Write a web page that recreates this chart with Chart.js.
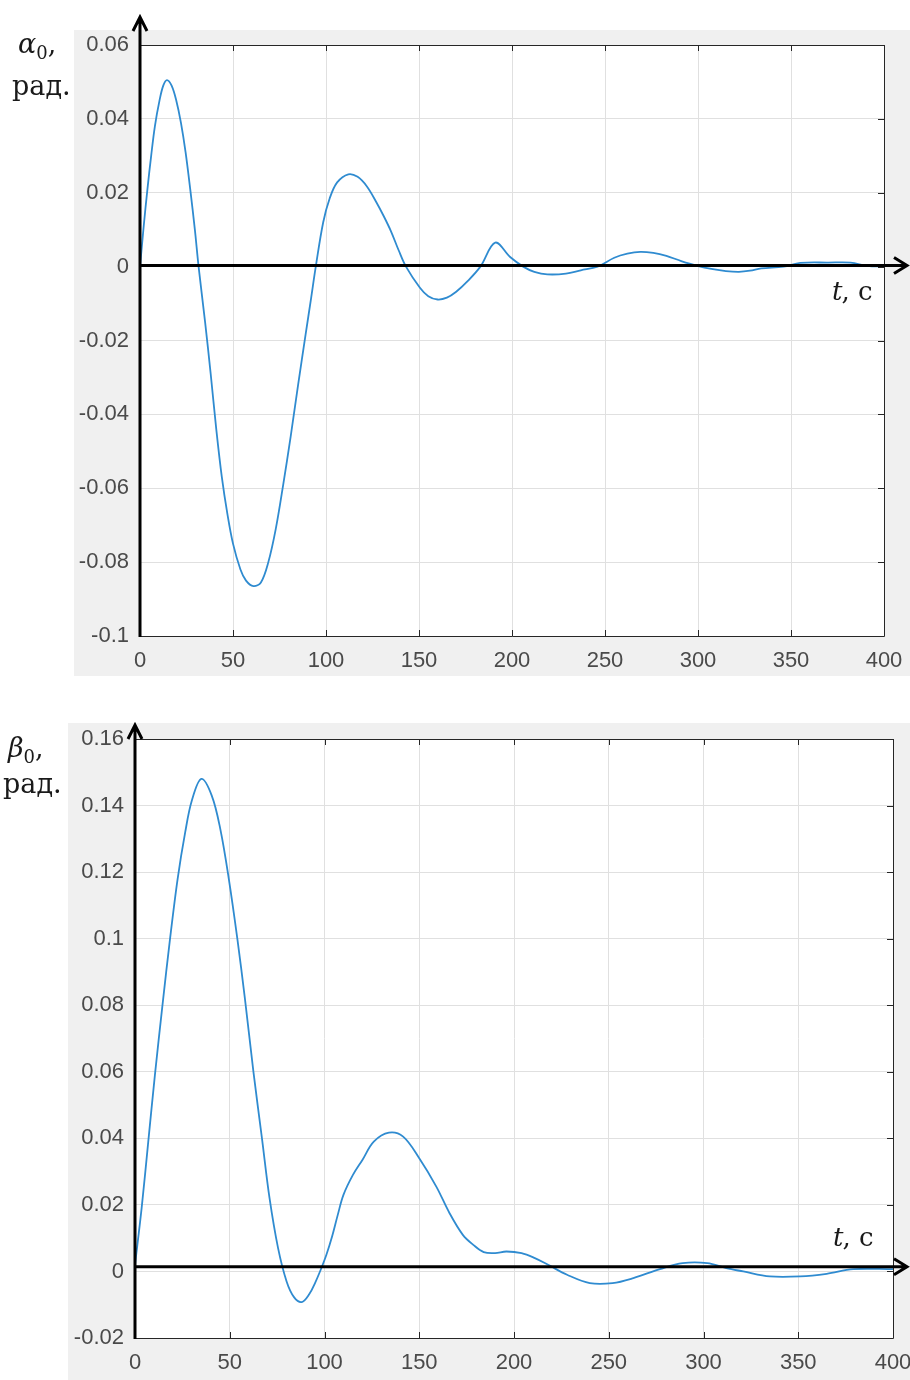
<!DOCTYPE html>
<html>
<head>
<meta charset="utf-8">
<script src="https://cdn.jsdelivr.net/npm/chart.js@4.4.0/dist/chart.umd.min.js"></script>
<style>
body { margin: 0; background: #fff; }
canvas { position: absolute; left: 0; }
#alphaChart { top: 0; }
#betaChart { top: 700px; }
</style>
</head>
<body>
<canvas id="alphaChart" width="910" height="700"></canvas>
<canvas id="betaChart" width="910" height="680"></canvas>
<script>
// alpha0(t), rad
const tAlpha = [0,2,4,6,8,10.5,12.5,14.5,17,19.5,22,24.5,27,29.5,31.5,35,38,41,44,47,50,54,57,61,65,69,73,77,81,85,89,92,94.5,98.5,102,106,112,117,122,127,131,135,139,143,150.5,155,160,165,170,176,183,191,199,206,212,219,229,237,246,255,262,269,276,283,291,299,308,315,322,328,334,346,355,370,382,391,400];
const alpha = [0,0.011,0.021,0.030,0.038,0.045,0.049,0.0505,0.049,0.045,0.039,0.031,0.021,0.010,0,-0.015,-0.029,-0.044,-0.057,-0.067,-0.075,-0.082,-0.085,-0.0865,-0.0855,-0.080,-0.071,-0.059,-0.046,-0.032,-0.0185,-0.0085,0,0.012,0.0185,0.0228,0.025,0.0243,0.0217,0.0175,0.0137,0.0095,0.0045,0,-0.0057,-0.008,-0.0089,-0.0084,-0.0068,-0.004,0,0.0065,0.0026,0,-0.0014,-0.0021,-0.0019,-0.001,0,0.0024,0.0035,0.004,0.0037,0.0029,0.0015,0.0003,-0.0007,-0.0012,-0.0014,-0.0011,-0.0005,0,0.001,0.0011,0.0011,0.0002,0];

// beta0(t), rad - lower plot
const tBeta = [0,3.5,7,10.5,14.5,18.5,22.5,26.5,30,35,40.5,45,49.5,54,58,62.5,67,71,75.5,80,84,88,92,95,98,101,104,107,110,115,120,126,134,141.5,150,159,166,173,178.5,184,190,196,204,211,218,228,240,252,263,277,289,302,312,321,335,351,365,379,400];
const beta = [0.002,0.019,0.039,0.059,0.080,0.100,0.118,0.132,0.1415,0.148,0.143,0.133,0.118,0.1,0.082,0.06,0.04,0.022,0.007,-0.003,-0.0078,-0.0092,-0.0068,-0.0035,0.0005,0.005,0.0105,0.017,0.023,0.029,0.0335,0.039,0.0417,0.0405,0.034,0.0255,0.0175,0.011,0.008,0.0058,0.0055,0.006,0.0055,0.004,0.002,-0.001,-0.0035,-0.0035,-0.002,0.0007,0.0025,0.0025,0.001,0,-0.0015,-0.0015,-0.0007,0.0007,0.0007];

const tRange = [0, 400];
const alphaRange = [-0.1, 0.06];
const betaRange = [-0.02, 0.16];

const tickFont = { family: '"Liberation Sans", Arial, sans-serif', size: 22 };
const tickColor = '#4a4a4a';
const labelFont = '"DejaVu Serif", serif';

function drawSymbol(ctx, sym, x, base) {
    ctx.font = 'italic 27px ' + labelFont;
    ctx.fillText(sym, x, base);
    x += ctx.measureText(sym).width;
    ctx.font = '18px ' + labelFont;
    ctx.fillText('0', x, base + 6);
    x += ctx.measureText('0').width;
    ctx.font = '27px ' + labelFont;
    ctx.fillText(',', x, base);
}

const frame = {
    id: 'frame',
    beforeDraw(chart, args, o) {
        const { ctx, chartArea: a } = chart;
        ctx.save();
        ctx.fillStyle = '#f0f0f0';
        ctx.fillRect(o.boxLeft, o.boxTop, chart.width - o.boxLeft, chart.height - o.boxTop - o.boxCut);
        ctx.fillStyle = '#fff';
        ctx.fillRect(a.left, a.top, a.right - a.left, a.bottom - a.top);
        ctx.restore();
    },
    afterDraw(chart, args, o) {
        const { ctx, chartArea: a, scales: { x, y } } = chart;
        ctx.save();
        // box and inward ticks
        ctx.strokeStyle = '#262626';
        ctx.lineWidth = 1;
        ctx.beginPath();
        ctx.moveTo(a.left, a.top + 0.5);
        ctx.lineTo(a.right + 0.5, a.top + 0.5);
        ctx.lineTo(a.right + 0.5, a.bottom + 0.5);
        ctx.lineTo(a.left, a.bottom + 0.5);
        x.ticks.forEach(t => {
            const p = Math.round(x.getPixelForValue(t.value)) + 0.5;
            ctx.moveTo(p, a.top); ctx.lineTo(p, a.top + 6);
            ctx.moveTo(p, a.bottom); ctx.lineTo(p, a.bottom - 6);
        });
        y.ticks.forEach(t => {
            const p = Math.round(y.getPixelForValue(t.value)) + 0.5;
            ctx.moveTo(a.right, p); ctx.lineTo(a.right - 6, p);
        });
        ctx.stroke();

        // hand drawn black axes with arrows
        const y0 = y.getPixelForValue(o.zeroAt);
        ctx.strokeStyle = '#000';
        ctx.lineWidth = 3;
        ctx.beginPath();
        ctx.moveTo(a.left, a.bottom + 1);
        ctx.lineTo(a.left, o.arrowTop);
        ctx.moveTo(a.left - 7, o.arrowTop + 14);
        ctx.lineTo(a.left, o.arrowTop);
        ctx.lineTo(a.left + 7, o.arrowTop + 14);
        ctx.moveTo(a.left, y0);
        ctx.lineTo(907, y0);
        ctx.moveTo(894, y0 - 8);
        ctx.lineTo(907, y0);
        ctx.lineTo(894, y0 + 8);
        ctx.stroke();

        ctx.fillStyle = '#1a1a1a';
        ctx.textBaseline = 'alphabetic';
        drawSymbol(ctx, o.sym, o.symX, o.symY);
        ctx.font = '27px ' + labelFont;
        ctx.fillText('рад.', o.unitX, o.unitY);
        ctx.font = 'italic 26px ' + labelFont;
        ctx.fillText('t', o.tX, o.tY);
        const w = ctx.measureText('t').width;
        ctx.font = '26px ' + labelFont;
        ctx.fillText(', c', o.tX + w - 1, o.tY);
        ctx.restore();
    }
};

function makeChart(id, ts, vals, range, pad, yWidth, frameOpts) {
    return new Chart(document.getElementById(id), {
        type: 'line',
        data: {
            datasets: [{
                data: ts.map((t, i) => ({ x: t, y: vals[i] })),
                borderColor: '#2f8bd0',
                borderWidth: 1.8,
                pointRadius: 0,
                tension: 0.35,
                fill: false
            }]
        },
        options: {
            responsive: false,
            animation: false,
            layout: { padding: pad },
            plugins: {
                legend: { display: false },
                tooltip: { enabled: false },
                frame: frameOpts
            },
            scales: {
                x: {
                    type: 'linear',
                    min: tRange[0],
                    max: tRange[1],
                    afterFit: s => { s.height = 40; s.paddingLeft = 0; s.paddingRight = 0; },
                    ticks: { stepSize: 50, font: tickFont, color: tickColor, padding: 12, maxRotation: 0 },
                    grid: { color: '#e0e0e0', drawTicks: false },
                    border: { display: false }
                },
                y: {
                    min: range[0],
                    max: range[1],
                    afterFit: s => { s.width = yWidth; },
                    ticks: {
                        stepSize: 0.02,
                        font: tickFont,
                        color: tickColor,
                        padding: 11,
                        callback: v => String(+(+v).toFixed(2))
                    },
                    grid: { color: '#e0e0e0', drawTicks: false },
                    border: { display: false }
                }
            }
        },
        plugins: [frame]
    });
}

makeChart('alphaChart', tAlpha, alpha, alphaRange,
    { left: 74, top: 45, right: 26, bottom: 24 }, 66,
    { boxLeft: 74, boxTop: 30, boxCut: 24, zeroAt: 0.0003, arrowTop: 17,
      sym: 'α', symX: 18, symY: 53, unitX: 12, unitY: 95, tX: 832, tY: 300 });

makeChart('betaChart', tBeta, beta, betaRange,
    { left: 68, top: 39, right: 17, bottom: 2 }, 67,
    { boxLeft: 68, boxTop: 23, boxCut: 0, zeroAt: 0.0014, arrowTop: 25,
      sym: 'β', symX: 8, symY: 57, unitX: 3, unitY: 93, tX: 833, tY: 546 });
</script>
</body>
</html>
